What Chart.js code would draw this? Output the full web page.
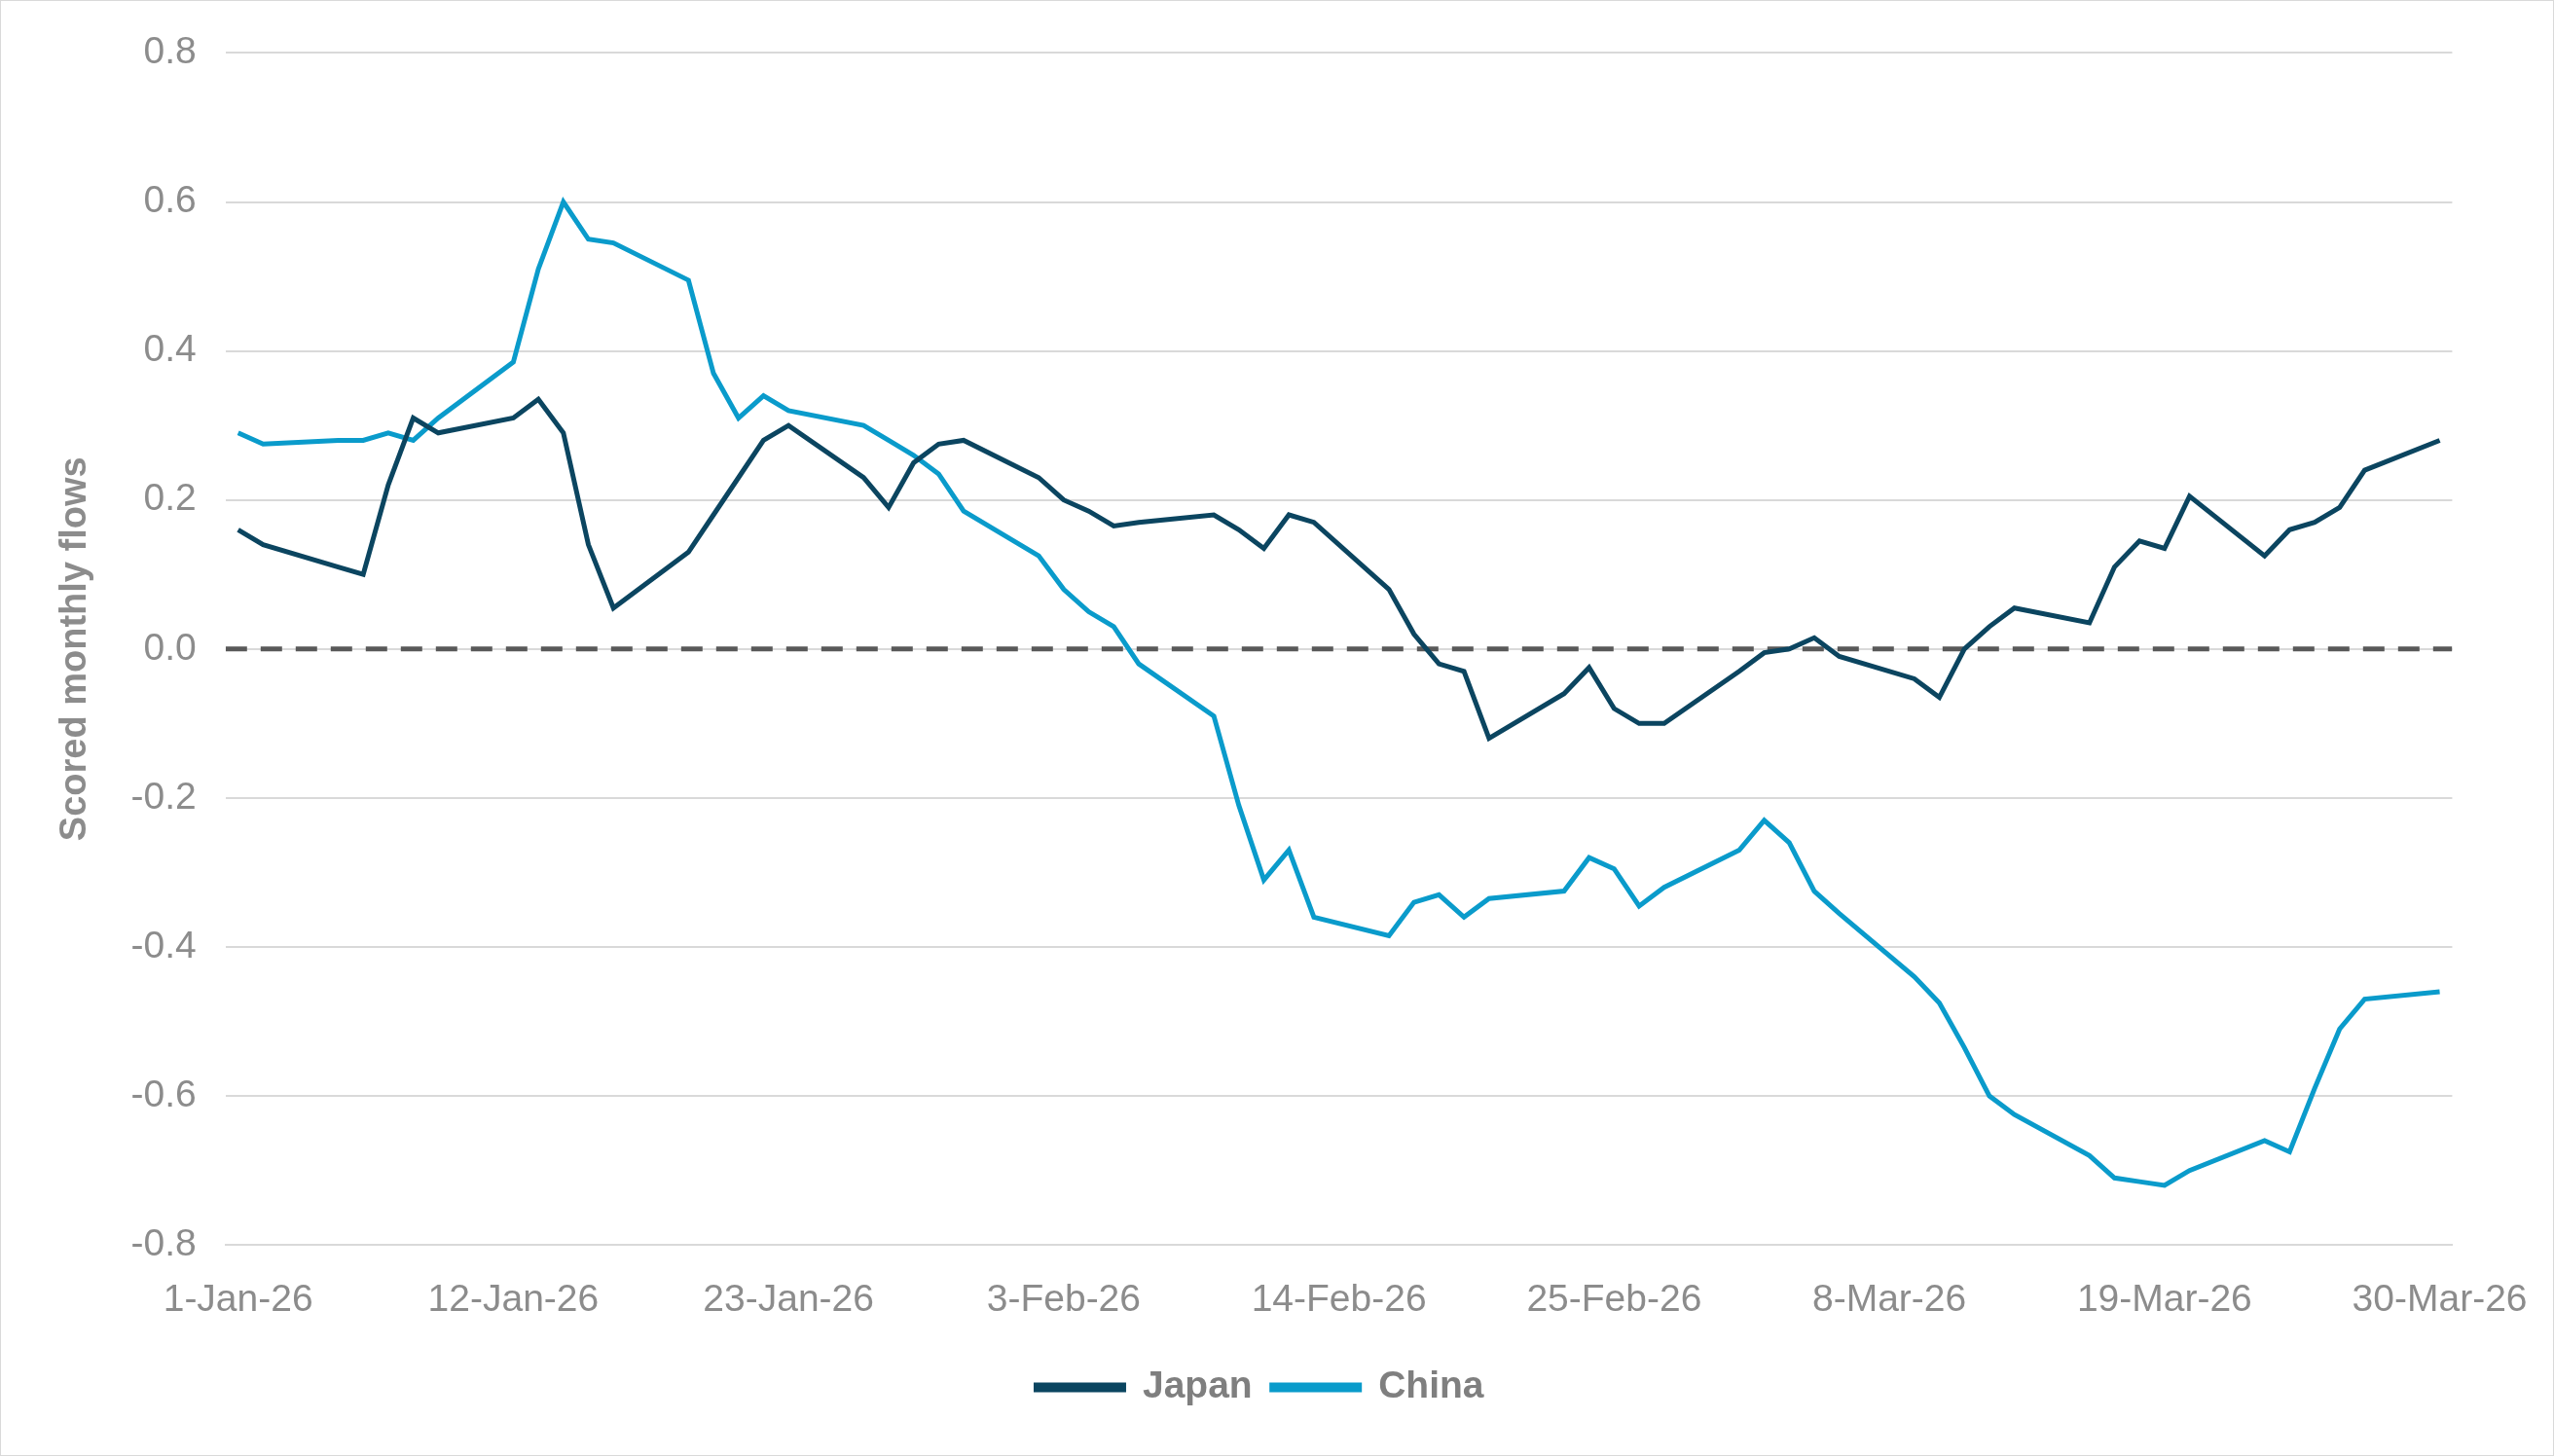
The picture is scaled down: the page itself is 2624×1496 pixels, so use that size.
<!DOCTYPE html>
<html>
<head>
<meta charset="utf-8">
<script src="https://cdn.jsdelivr.net/npm/chart.js@4.4.1/dist/chart.umd.min.js"></script>
<style>
  html, body { margin: 0; padding: 0; background: #fff; }
  #wrap { width: 2622px; height: 1494px; border: 1px solid #d9d9d9; }
</style>
</head>
<body>
<div id="wrap"><canvas id="chart" width="2622" height="1494"></canvas></div>
<script>
// day index since 1-Jan-26 (weekdays only)
const days = [0,1,4,5,6,7,8, 11,12,13,14,15, 18,19,20,21,22, 25,26,27,28,29,
  32,33,34,35,36, 39,40,41,42,43, 46,47,48,49,50, 53,54,55,56,57,
  60,61,62,63,64, 67,68,69,70,71, 74,75,76,77,78, 81,82,83,84,85, 88];

const japan = [0.16,0.14,0.11,0.10,0.22,0.31,0.29, 0.31,0.335,0.29,0.14,0.055,
  0.13,0.18,0.23,0.28,0.30, 0.23,0.19,0.25,0.275,0.28,
  0.23,0.20,0.185,0.165,0.17, 0.18,0.16,0.135,0.18,0.17,
  0.08,0.02,-0.02,-0.03,-0.12, -0.06,-0.025,-0.08,-0.10,-0.10,
  -0.03,-0.005,0.00,0.015,-0.01, -0.04,-0.065,0.00,0.03,0.055,
  0.035,0.11,0.145,0.135,0.205, 0.125,0.16,0.17,0.19,0.24, 0.28];

const china = [0.29,0.275,0.28,0.28,0.29,0.28,0.31, 0.385,0.51,0.60,0.55,0.545,
  0.495,0.37,0.31,0.34,0.32, 0.30,0.28,0.26,0.235,0.185,
  0.125,0.08,0.05,0.03,-0.02, -0.09,-0.21,-0.31,-0.27,-0.36,
  -0.385,-0.34,-0.33,-0.36,-0.335, -0.325,-0.28,-0.295,-0.345,-0.32,
  -0.27,-0.23,-0.26,-0.325,-0.355, -0.44,-0.475,-0.535,-0.60,-0.625,
  -0.68,-0.71,-0.715,-0.72,-0.70, -0.66,-0.675,-0.59,-0.51,-0.47, -0.46];

const tickDays = [0, 11, 22, 33, 44, 55, 66, 77, 88];
const tickLabels = ["1-Jan-26","12-Jan-26","23-Jan-26","3-Feb-26","14-Feb-26","25-Feb-26","8-Mar-26","19-Mar-26","30-Mar-26"];
const zeroLine = [-0.5, 88.5];

const pts = (vals) => vals.map((v, i) => ({ x: days[i], y: v }));

new Chart(document.getElementById("chart"), {
  type: "line",
  data: {
    datasets: [
      { label: "zero", data: zeroLine.map(x => ({ x: x, y: 0 })), borderColor: "#595959",
        borderWidth: 5, borderDash: [22, 14], pointRadius: 0, order: 3 },
      { label: "Japan", data: pts(japan), borderColor: "#0b4560", backgroundColor: "#0b4560",
        borderWidth: 5, pointRadius: 0, tension: 0, order: 1 },
      { label: "China", data: pts(china), borderColor: "#0a9bcb", backgroundColor: "#0a9bcb",
        borderWidth: 5, pointRadius: 0, tension: 0, order: 2 },
    ],
  },
  options: {
    responsive: false,
    animation: false,
    devicePixelRatio: 1,
    layout: { padding: { left: 50, right: 85, top: 30, bottom: 40 } },
    plugins: {
      legend: {
        position: "bottom",
        labels: {
          filter: (item) => item.text !== "zero",
          color: "#7f7f7f",
          font: { family: "Liberation Sans", size: 39, weight: "bold" },
          boxWidth: 90, boxHeight: 5, padding: 20,
        },
      },
      tooltip: { enabled: false },
    },
    scales: {
      x: {
        type: "linear", min: -0.5, max: 88.5,
        afterBuildTicks: (axis) => { axis.ticks = tickDays.map(v => ({ value: v })); },
        ticks: {
          callback: (v) => tickLabels[tickDays.indexOf(v)],
          color: "#8c8c8c", maxRotation: 0, autoSkip: false,
          font: { family: "Liberation Sans", size: 39 }, padding: 26,
        },
        grid: { display: false },
        border: { color: "#d9d9d9", width: 2 },
      },
      y: {
        min: -0.8, max: 0.8,
        ticks: {
          stepSize: 0.2, color: "#8c8c8c",
          callback: (v) => v.toFixed(1),
          font: { family: "Liberation Sans", size: 39 }, padding: 30,
        },
        grid: { color: "#d9d9d9", lineWidth: 2, drawTicks: false },
        border: { display: false },
        title: {
          display: true, text: "Scored monthly flows", color: "#8c8c8c",
          font: { family: "Liberation Sans", size: 38, weight: "bold" },
        },
      },
    },
  },
});
</script>
</body>
</html>
